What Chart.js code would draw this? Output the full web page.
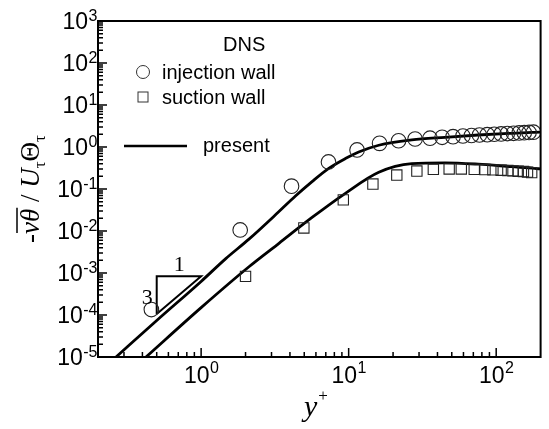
<!DOCTYPE html>
<html>
<head>
<meta charset="utf-8">
<script src="https://cdn.jsdelivr.net/npm/chart.js@4.4.0/dist/chart.umd.min.js"></script>
<style>
  html, body { margin: 0; padding: 0; background: #fff; }
  canvas { display: block; }
</style>
</head>
<body>
<canvas id="chart" width="549" height="429"></canvas>
<script>
// DNS, injection wall (circles)
const injectionX = [0.46, 1.84, 4.1, 7.3, 11.4, 16.2, 21.8, 28.2, 35.6, 43, 51, 59.5, 68, 77, 87, 97, 108, 119, 131, 143, 155, 167, 179];
const injectionY = [1.35e-4, 0.0106, 0.117, 0.44, 0.85, 1.22, 1.41, 1.55, 1.62, 1.70, 1.76, 1.83, 1.88, 1.93, 1.97, 2.01, 2.05, 2.09, 2.12, 2.16, 2.19, 2.22, 2.25];

// DNS, suction wall (squares)
const suctionX = [2.0, 4.97, 9.2, 14.6, 21.2, 29, 37.5, 48, 58, 71, 84, 95, 108, 120, 130, 141, 153, 163, 174];
const suctionY = [8.3e-4, 0.0118, 0.055, 0.131, 0.215, 0.268, 0.294, 0.30, 0.30, 0.295, 0.29, 0.285, 0.28, 0.275, 0.27, 0.265, 0.26, 0.252, 0.245];

// present model, injection side (upper curve)
const upperX = [0.265, 0.5, 1.0, 1.47, 2.11, 3.37, 4.36, 5.65, 7.33, 9.5, 11.7, 16, 26.8, 45, 75.5, 127, 182, 200];
const upperY = [1.0e-5, 7.4e-5, 6.3e-4, 2.2e-3, 6.4e-3, 0.029, 0.068, 0.15, 0.31, 0.53, 0.76, 1.1, 1.47, 1.70, 1.93, 2.12, 2.24, 2.27];

// present model, suction side (lower curve)
const lowerX = [0.423, 1.0, 2.11, 3.37, 5.65, 9.5, 16, 26.8, 45, 75.5, 127, 182, 200];
const lowerY = [1.0e-5, 1.5e-4, 1.41e-3, 5.1e-3, 0.021, 0.079, 0.25, 0.40, 0.42, 0.39, 0.34, 0.31, 0.30];

// slope triangle (3 : 1)
const triangleX = [0.5, 0.5, 1.0, 0.5];
const triangleY = [1.05e-4, 8.4e-4, 8.4e-4, 1.05e-4];

const xTickValues = [1, 10, 100];
const xTickExps = ['0', '1', '2'];
const yTickValues = [1e-5, 1e-4, 1e-3, 1e-2, 1e-1, 1, 10, 100, 1000];
const yTickExps = ['-5', '-4', '-3', '-2', '-1', '0', '1', '2', '3'];

const sansFont = '"Liberation Sans", Arial, Helvetica, sans-serif';
const serifFont = '"Liberation Serif", "Times New Roman", serif';

const toPoints = (xs, ys) => xs.map((x, i) => ({ x: x, y: ys[i] }));

// minor ticks 2..9 inside each decade of a range
const minorTicks = (min, max) => {
    const out = [];
    for (let e = Math.floor(Math.log10(min)); e <= Math.ceil(Math.log10(max)); e++) {
        for (let m = 2; m <= 9; m++) {
            const v = m * Math.pow(10, e);
            if (v > min && v < max) out.push(v);
        }
    }
    return out;
};

// draws "10" with a raised exponent
const drawPower = (ctx, exp, x, baseline, align, baseSize, supSize, supRaise) => {
    ctx.font = baseSize + 'px ' + sansFont;
    const wb = ctx.measureText('10').width;
    ctx.font = supSize + 'px ' + sansFont;
    const ws = ctx.measureText(exp).width;
    let left = x;
    if (align === 'right') left = x - wb - ws;
    if (align === 'center') left = x - (wb + ws) / 2;
    ctx.textAlign = 'left';
    ctx.textBaseline = 'alphabetic';
    ctx.font = baseSize + 'px ' + sansFont;
    ctx.fillText('10', left, baseline);
    ctx.font = supSize + 'px ' + sansFont;
    ctx.fillText(exp, left + wb + 0.5, baseline - supRaise);
};

const framePlugin = {
    id: 'frameAndLabels',
    afterDatasetsDraw(chart) {
        const { ctx, chartArea: a, scales } = chart;
        const xs = scales.x, ys = scales.y;
        ctx.save();
        ctx.strokeStyle = '#000';
        ctx.fillStyle = '#000';

        // frame
        ctx.lineWidth = 2;
        ctx.strokeRect(a.left, a.top, a.right - a.left, a.bottom - a.top);

        // ticks, pointing into the plot
        ctx.lineWidth = 1.5;
        ctx.beginPath();
        xTickValues.forEach(v => {
            const px = xs.getPixelForValue(v);
            ctx.moveTo(px, a.bottom); ctx.lineTo(px, a.bottom - 9);
        });
        minorTicks(xs.min, xs.max).forEach(v => {
            const px = xs.getPixelForValue(v);
            ctx.moveTo(px, a.bottom); ctx.lineTo(px, a.bottom - 5);
        });
        yTickValues.forEach(v => {
            const py = ys.getPixelForValue(v);
            ctx.moveTo(a.left, py); ctx.lineTo(a.left + 9, py);
        });
        minorTicks(ys.min, ys.max).forEach(v => {
            const py = ys.getPixelForValue(v);
            ctx.moveTo(a.left, py); ctx.lineTo(a.left + 5, py);
        });
        ctx.stroke();

        // tick labels
        xTickValues.forEach((v, i) => {
            drawPower(ctx, xTickExps[i], xs.getPixelForValue(v), a.bottom + 26, 'center', 23, 16, 10);
        });
        yTickValues.forEach((v, i) => {
            drawPower(ctx, yTickExps[i], a.left - 1, ys.getPixelForValue(v) + 8, 'right', 23, 16, 8);
        });

        // x axis title: y+
        ctx.font = 'italic 30px ' + serifFont;
        const wy = ctx.measureText('y').width;
        ctx.fillText('y', 304, 416);
        ctx.font = '17px ' + serifFont;
        ctx.fillText('+', 304 + wy + 1, 401);

        // y axis title: -v\u03b8 / U\u03c4 \u0398\u03c4 (rotated)
        ctx.save();
        ctx.translate(39, 189);
        ctx.rotate(-Math.PI / 2);
        const big = 'italic 27px ' + serifFont;
        const upright = '27px ' + serifFont;
        const small = '17px ' + serifFont;
        const parts = [
            { t: '-', f: upright, dy: 0 },
            { t: 'v\u03b8', f: big, dy: 0, over: true },
            { t: ' / ', f: upright, dy: 0 },
            { t: 'U', f: big, dy: 0 },
            { t: '\u03c4', f: small, dy: 6 },
            { t: '\u0398', f: upright, dy: 0 },
            { t: '\u03c4', f: small, dy: 6 }
        ];
        let total = 0;
        parts.forEach(p => { ctx.font = p.f; p.w = ctx.measureText(p.t).width; total += p.w; });
        let cx = -total / 2;
        parts.forEach(p => {
            ctx.font = p.f;
            ctx.fillText(p.t, cx, p.dy);
            if (p.over) {
                ctx.lineWidth = 1.5;
                ctx.beginPath();
                ctx.moveTo(cx + 1, -22); ctx.lineTo(cx + p.w + 1, -22);
                ctx.stroke();
            }
            cx += p.w;
        });
        ctx.restore();

        // slope triangle labels
        ctx.font = '22px ' + serifFont;
        ctx.textAlign = 'center';
        ctx.fillText('1', xs.getPixelForValue(0.71), ys.getPixelForValue(8.4e-4) - 5);
        ctx.textAlign = 'right';
        ctx.fillText('3', xs.getPixelForValue(0.5) - 4, ys.getPixelForValue(2.9e-4) + 8);

        // legend
        ctx.textAlign = 'left';
        ctx.font = '20px ' + sansFont;
        ctx.fillText('DNS', 223, 51);
        ctx.fillText('injection wall', 162, 79);
        ctx.fillText('suction wall', 162, 104);
        ctx.fillText('present', 203, 152);
        ctx.lineWidth = 1;
        ctx.strokeStyle = '#333';
        ctx.beginPath();
        ctx.arc(143, 72, 6.5, 0, Math.PI * 2);
        ctx.stroke();
        ctx.strokeRect(138, 92, 10, 10);
        ctx.strokeStyle = '#000';
        ctx.lineWidth = 2.5;
        ctx.beginPath();
        ctx.moveTo(124, 146); ctx.lineTo(187, 146);
        ctx.stroke();

        ctx.restore();
    }
};

new Chart(document.getElementById('chart'), {
    type: 'scatter',
    data: {
        datasets: [{
            label: 'injection wall',
            data: toPoints(injectionX, injectionY),
            pointStyle: 'circle',
            pointRadius: 7.3,
            borderWidth: 1.1,
            borderColor: '#222',
            backgroundColor: 'rgba(0,0,0,0)'
        }, {
            label: 'suction wall',
            data: toPoints(suctionX, suctionY),
            pointStyle: 'rect',
            pointRadius: 7.3,
            borderWidth: 1.1,
            borderColor: '#222',
            backgroundColor: 'rgba(0,0,0,0)'
        }, {
            label: 'present',
            data: toPoints(upperX, upperY),
            showLine: true,
            pointRadius: 0,
            borderWidth: 2.8,
            borderColor: '#000',
            cubicInterpolationMode: 'monotone'
        }, {
            label: 'present (suction)',
            data: toPoints(lowerX, lowerY),
            showLine: true,
            pointRadius: 0,
            borderWidth: 2.8,
            borderColor: '#000',
            cubicInterpolationMode: 'monotone'
        }, {
            label: 'slope',
            data: toPoints(triangleX, triangleY),
            showLine: true,
            pointRadius: 0,
            borderWidth: 2,
            borderColor: '#000',
            tension: 0
        }]
    },
    options: {
        responsive: false,
        animation: false,
        devicePixelRatio: 1,
        layout: { padding: { left: 98, right: 6, top: 21, bottom: 72 } },
        plugins: {
            legend: { display: false },
            tooltip: { enabled: false }
        },
        scales: {
            x: { type: 'logarithmic', min: 0.2, max: 200, display: false },
            y: { type: 'logarithmic', min: 1e-5, max: 1000, display: false }
        }
    },
    plugins: [framePlugin]
});
</script>
</body>
</html>
